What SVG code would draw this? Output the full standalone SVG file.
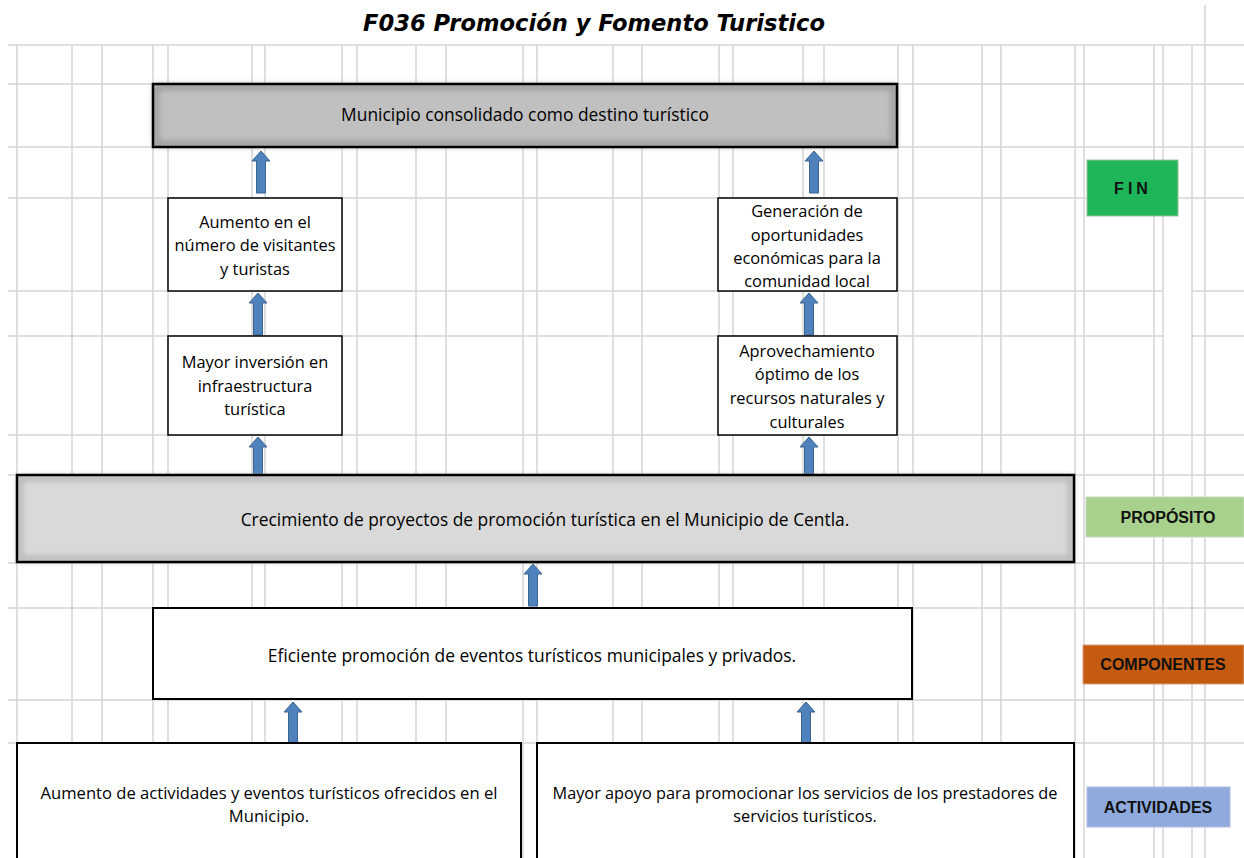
<svg xmlns="http://www.w3.org/2000/svg" width="1244" height="858" viewBox="0 0 1244 858">
<defs>
<style>
.grid line{stroke:#d4d4d4;stroke-width:1.5}
.box{fill:#fff;stroke:#000;stroke-width:1.5}
.bigbox{stroke:#000;stroke-width:2.5}
.t{font-family:"Open Sans",Lato,"Liberation Sans",sans-serif;font-size:16.4px;fill:#000;text-anchor:middle}
.tl{font-size:17.4px}
.tb{font-size:16.6px}
.tc{font-size:16.3px}
.lbl{font-family:"Liberation Sans",Arial,sans-serif;font-size:16px;font-weight:bold;fill:#111;text-anchor:middle}
.arrow{fill:#4f81bd;stroke:#3a6591;stroke-width:1}
</style>
<filter id="glow" x="-5%" y="-20%" width="110%" height="140%">
<feGaussianBlur stdDeviation="3"/>
</filter>
<path id="arr" d="M0,0 L9,10 L4.5,10 L4.5,42 L-4.5,42 L-4.5,10 L-9,10 Z"/>
</defs>
<rect width="1244" height="858" fill="#fff"/>
<g class="grid">
<line x1="8" y1="45" x2="1244" y2="45"/>
<line x1="8" y1="84" x2="1244" y2="84"/>
<line x1="8" y1="147" x2="1244" y2="147"/>
<line x1="8" y1="198" x2="1244" y2="198"/>
<line x1="8" y1="291" x2="1163" y2="291"/>
<line x1="1192" y1="291" x2="1244" y2="291"/>
<line x1="8" y1="336" x2="1163" y2="336"/>
<line x1="1192" y1="336" x2="1244" y2="336"/>
<line x1="8" y1="435" x2="1244" y2="435"/>
<line x1="8" y1="475" x2="1244" y2="475"/>
<line x1="8" y1="563" x2="1244" y2="563"/>
<line x1="8" y1="608" x2="1244" y2="608"/>
<line x1="8" y1="700" x2="1244" y2="700"/>
<line x1="8" y1="743" x2="1244" y2="743"/>
<line x1="17" y1="45" x2="17" y2="858"/>
<line x1="72" y1="45" x2="72" y2="858"/>
<line x1="102" y1="45" x2="102" y2="858"/>
<line x1="153" y1="45" x2="153" y2="858"/>
<line x1="168" y1="45" x2="168" y2="858"/>
<line x1="252" y1="45" x2="252" y2="858"/>
<line x1="265" y1="45" x2="265" y2="858"/>
<line x1="342" y1="45" x2="342" y2="858"/>
<line x1="357" y1="45" x2="357" y2="858"/>
<line x1="416" y1="45" x2="416" y2="858"/>
<line x1="446" y1="45" x2="446" y2="858"/>
<line x1="523" y1="45" x2="523" y2="858"/>
<line x1="537" y1="45" x2="537" y2="858"/>
<line x1="613" y1="45" x2="613" y2="858"/>
<line x1="642" y1="45" x2="642" y2="858"/>
<line x1="719" y1="45" x2="719" y2="858"/>
<line x1="733" y1="45" x2="733" y2="858"/>
<line x1="803" y1="45" x2="803" y2="858"/>
<line x1="824" y1="45" x2="824" y2="858"/>
<line x1="898" y1="45" x2="898" y2="858"/>
<line x1="913" y1="45" x2="913" y2="858"/>
<line x1="982" y1="45" x2="982" y2="858"/>
<line x1="1001" y1="45" x2="1001" y2="858"/>
<line x1="1075" y1="45" x2="1075" y2="858"/>
<line x1="1084" y1="45" x2="1084" y2="858"/>
<line x1="1154" y1="45" x2="1154" y2="858"/>
<line x1="1163" y1="45" x2="1163" y2="858"/>
<line x1="1192" y1="45" x2="1192" y2="858"/>
<line x1="1205" y1="5" x2="1205" y2="858"/>
</g>
<text x="594" y="31" font-family="'DejaVu Sans',Verdana,sans-serif" font-size="22.6" font-weight="bold" font-style="italic" text-anchor="middle" fill="#000">F036 Promoción y Fomento Turistico</text>
<g id="connectors">
<use href="#arr" class="arrow" x="261" y="151"/>
<use href="#arr" class="arrow" x="258" y="293"/>
<use href="#arr" class="arrow" x="258" y="437"/>
<use href="#arr" class="arrow" x="814" y="151"/>
<use href="#arr" class="arrow" x="809" y="293"/>
<use href="#arr" class="arrow" x="809" y="437"/>
<use href="#arr" class="arrow" x="533" y="564"/>
<use href="#arr" class="arrow" x="293" y="702"/>
<use href="#arr" class="arrow" x="806" y="702"/>
</g>
<g id="fin-main">
<rect x="153" y="84" width="744" height="63" fill="#c0c0c0"/>
<rect x="156" y="87" width="738" height="57" fill="none" stroke="#8a8a8a" stroke-width="4" filter="url(#glow)"/>
<rect x="153" y="84" width="744" height="63" fill="none" class="bigbox"/>
<text class="t tl" x="525" y="121">Municipio consolidado como destino turístico</text>
</g>
<g id="visitantes">
<rect class="box" x="168" y="198" width="174" height="93"/>
<text class="t" x="255" y="228">Aumento en el</text>
<text class="t" x="255" y="251">número de visitantes</text>
<text class="t" x="255" y="275">y turistas</text>
</g>
<g id="inversion">
<rect class="box" x="168" y="336" width="174" height="99"/>
<text class="t" x="255" y="368">Mayor inversión en</text>
<text class="t" x="255" y="392">infraestructura</text>
<text class="t" x="255" y="415">turística</text>
</g>
<g id="oportunidades">
<rect class="box" x="718" y="198" width="179" height="93"/>
<text class="t" x="807" y="217">Generación de</text>
<text class="t" x="807" y="241">oportunidades</text>
<text class="t" x="807" y="264">económicas para la</text>
<text class="t" x="807" y="287">comunidad local</text>
</g>
<g id="aprovechamiento">
<rect class="box" x="718" y="336" width="179" height="99"/>
<text class="t" x="807" y="357">Aprovechamiento</text>
<text class="t" x="807" y="380">óptimo de los</text>
<text class="t" x="807" y="404">recursos naturales y</text>
<text class="t" x="807" y="428">culturales</text>
</g>
<g id="proposito-main">
<rect x="17" y="475" width="1057" height="87" fill="#d9d9d9"/>
<rect x="20" y="478" width="1051" height="81" fill="none" stroke="#a8a8a8" stroke-width="4" filter="url(#glow)"/>
<rect x="17" y="475" width="1057" height="87" fill="none" class="bigbox"/>
<text class="t tl" x="545" y="526">Crecimiento de proyectos de promoción turística en el Municipio de Centla.</text>
</g>
<g id="componente">
<rect class="box" x="153" y="608" width="759" height="91" style="stroke-width:2"/>
<text class="t tl" x="532" y="662">Eficiente promoción de eventos turísticos municipales y privados.</text>
</g>
<g id="actividad1">
<rect class="box" x="17" y="743" width="504" height="125" style="stroke-width:2"/>
<text class="t tb" x="269" y="799">Aumento de actividades y eventos turísticos ofrecidos en el</text>
<text class="t tb" x="269" y="822">Municipio.</text>
</g>
<g id="actividad2">
<rect class="box" x="537" y="743" width="537" height="125" style="stroke-width:2"/>
<text class="t tc" x="805" y="799">Mayor apoyo para promocionar los servicios de los prestadores de</text>
<text class="t tc" x="805" y="822">servicios turísticos.</text>
</g>
<g id="lbl-fin">
<rect x="1087" y="160" width="91" height="56" fill="#1fb65a" stroke="#9bbf9b" stroke-width="1"/>
<text class="lbl" x="1133" y="194" font-size="15" letter-spacing="4">FIN</text>
</g>
<g id="lbl-proposito">
<rect x="1086" y="497" width="158" height="40" fill="#a9d18e" stroke="#c8d8c0" stroke-width="1"/>
<text class="lbl" x="1168" y="523">PROPÓSITO</text>
</g>
<g id="lbl-componentes">
<rect x="1083" y="645" width="161" height="39" fill="#c55a11" stroke="#d9a080" stroke-width="1"/>
<text class="lbl" x="1163" y="670" font-size="16.5">COMPONENTES</text>
</g>
<g id="lbl-actividades">
<rect x="1087" y="787" width="143" height="40" fill="#8faadc" stroke="#b0c0e0" stroke-width="1"/>
<text class="lbl" x="1158" y="813">ACTIVIDADES</text>
</g>
</svg>
